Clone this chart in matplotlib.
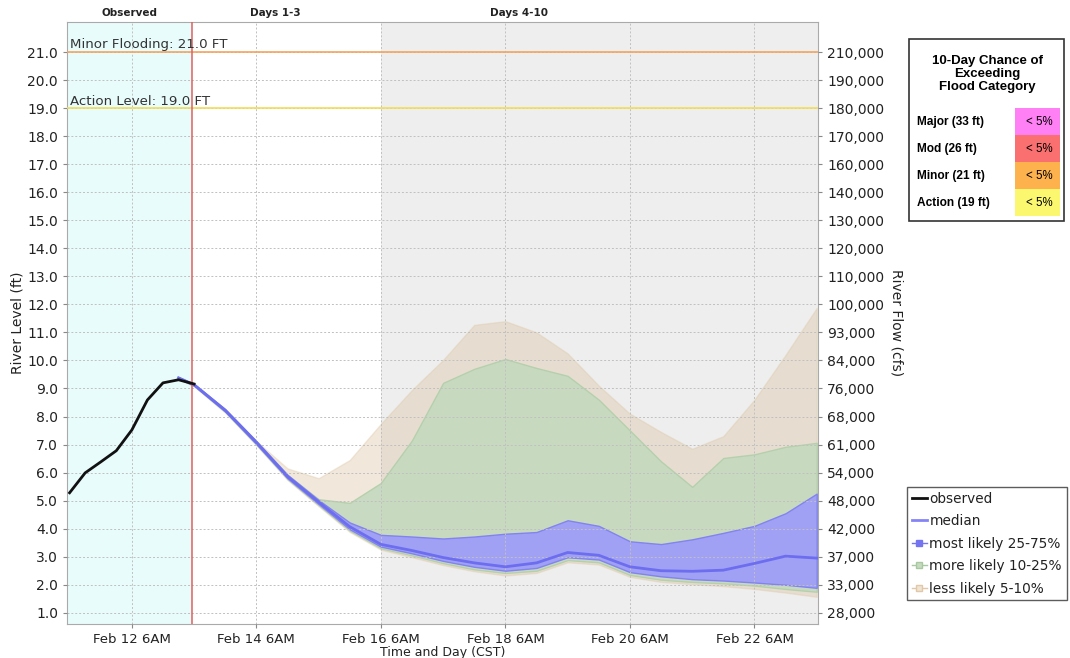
import numpy as np
import matplotlib.pyplot as plt
from matplotlib.lines import Line2D
from matplotlib.patches import Rectangle

# hours relative to Feb 12 6AM CST
obs_hours = [-24, -18, -12, -6, 0, 6, 12, 18, 24]
obs_stage = [5.28, 5.99, 6.38, 6.78, 7.52, 8.59, 9.20, 9.31, 9.16]

fc_hours = [18, 24, 36, 48, 60, 72, 84, 96, 108, 120, 132, 144, 156, 168,
            180, 192, 204, 216, 228, 240, 252, 264]
p50 = [9.38, 9.13, 8.22, 7.08, 5.86, 4.95, 4.07, 3.44, 3.22, 2.97, 2.78, 2.64,
       2.78, 3.15, 3.05, 2.64, 2.50, 2.48, 2.52, 2.76, 3.02, 2.95]
p75 = [9.40, 9.16, 8.26, 7.12, 5.92, 5.02, 4.22, 3.78, 3.72, 3.65, 3.72, 3.82,
       3.88, 4.30, 4.10, 3.55, 3.45, 3.62, 3.85, 4.10, 4.55, 5.25]
p25 = [9.36, 9.10, 8.18, 7.02, 5.80, 4.88, 3.98, 3.36, 3.12, 2.85, 2.64, 2.50,
       2.60, 2.98, 2.90, 2.45, 2.30, 2.20, 2.15, 2.08, 2.00, 1.89]
p90 = [9.40, 9.16, 8.26, 7.12, 5.92, 5.05, 4.92, 5.63, 7.15, 9.20, 9.70, 10.05,
       9.73, 9.45, 8.60, 7.50, 6.40, 5.49, 6.52, 6.65, 6.92, 7.06]
p10 = [9.35, 9.09, 8.16, 7.00, 5.77, 4.84, 3.93, 3.30, 3.05, 2.77, 2.55, 2.42,
       2.50, 2.88, 2.80, 2.35, 2.18, 2.10, 2.05, 1.97, 1.85, 1.75]
p95 = [9.40, 9.16, 8.26, 7.12, 6.15, 5.80, 6.45, 7.74, 8.95, 10.02, 11.27, 11.40,
       11.00, 10.25, 9.10, 8.10, 7.45, 6.85, 7.30, 8.60, 10.20, 11.87]
p05 = [9.34, 9.08, 8.14, 6.98, 5.74, 4.80, 3.88, 3.25, 2.98, 2.70, 2.48, 2.33,
       2.42, 2.80, 2.72, 2.28, 2.10, 2.02, 1.95, 1.85, 1.72, 1.57]

stage_ticks = np.arange(1, 22)
flow_labels = ['28,000', '33,000', '37,000', '42,000', '48,000', '54,000',
               '61,000', '68,000', '76,000', '84,000', '93,000', '100,000',
               '110,000', '120,000', '130,000', '140,000', '160,000', '170,000',
               '180,000', '190,000', '210,000']
day_ticks = [0, 48, 96, 144, 192, 240]
day_labels = ['Feb 12 6AM', 'Feb 14 6AM', 'Feb 16 6AM', 'Feb 18 6AM',
              'Feb 20 6AM', 'Feb 22 6AM']
issued = 23
days4_start = 96
minor_ft = 21.0
action_ft = 19.0

categories = ['Major (33 ft)', 'Mod (26 ft)', 'Minor (21 ft)', 'Action (19 ft)']
cat_chance = ['< 5%', '< 5%', '< 5%', '< 5%']
cat_colors = ['#ff80f4', '#fa7070', '#fdb24e', '#fbf870']

fig = plt.figure(figsize=(10.7, 6.58), dpi=100)
ax = fig.add_axes([67/1070, 1-624/658, 751/1070, 602/658])
xmin, xmax = -25, 264.5
ax.set_xlim(xmin, xmax)
ax.set_ylim(0.6, 22.07)

ax.axvspan(xmin, issued, color='#e9fcfc', zorder=0.2, lw=0)
ax.axvspan(days4_start, xmax, color='#eeeeee', zorder=0.2, lw=0)

ax.fill_between(fc_hours, p05, p95, facecolor='#d9bf9a', alpha=0.35,
                edgecolor='#dcc4a4', lw=1, zorder=1)
ax.fill_between(fc_hours, p10, p90, facecolor='#c6dac0', alpha=0.95,
                edgecolor='#b4cfab', lw=1, zorder=1.2)
ax.fill_between(fc_hours, p25, p75, facecolor='#9e9ef7', alpha=0.95,
                edgecolor='#8080f0', lw=1, zorder=1.4)
ax.plot(fc_hours, p50, color='#6d6df0', lw=2, zorder=3)
ax.plot(obs_hours, obs_stage, color='#111111', lw=2, zorder=3.2)

ax.axhline(minor_ft, color='#f4a462', lw=1.2, zorder=3)
ax.axhline(action_ft, color='#f2dc5a', lw=1.2, zorder=3)
ax.axvline(issued, color='#e06060', lw=1.1, zorder=3)
ax.text(-24.0, minor_ft + 0.02, 'Minor Flooding: 21.0 FT', fontsize=9.6,
        color='#333333', va='bottom', zorder=4)
ax.text(-24.0, action_ft + 0.02, 'Action Level: 19.0 FT', fontsize=9.6,
        color='#333333', va='bottom', zorder=4)

ax.grid(True, color='#c0c0c0', lw=0.7, ls=(0, (2, 2)))
ax.set_axisbelow(False)
ax.set_yticks(stage_ticks)
ax.set_yticklabels([f'{v:.1f}' for v in stage_ticks], fontsize=10, color='#222222')
ax.set_xticks(day_ticks)
ax.set_xticklabels(day_labels, fontsize=9.5, color='#222222')
ax.tick_params(length=3, color='#888888')
for s in ax.spines.values():
    s.set_color('#aaaaaa')
ax.set_ylabel('River Level (ft)', fontsize=10, color='#222222', labelpad=2)
ax.set_xlabel('Time and Day (CST)', fontsize=9, color='#222222', labelpad=0)

ax2 = ax.twinx()
ax2.set_ylim(ax.get_ylim())
ax2.set_yticks(stage_ticks)
ax2.set_yticklabels(flow_labels, fontsize=10, color='#222222')
ax2.tick_params(length=3, color='#888888')
for s in ax2.spines.values():
    s.set_visible(False)
ax2.set_ylabel('River Flow (cfs)', fontsize=10, color='#222222',
               rotation=-90, labelpad=14)

# period labels above the plot
top_y = 1 - 13/658
for xp, txt in [(129, 'Observed'), (275, 'Days 1-3'), (519, 'Days 4-10')]:
    fig.text(xp/1070, top_y, txt, fontsize=7.5, fontweight='bold',
             ha='center', va='center', color='#222222')

# flood category chance table
tb = fig.add_axes([908/1070, 1-222/658, 157/1070, 184/658])
tb.set_xlim(0, 157)
tb.set_ylim(184, 0)
tb.axis('off')
tb.add_patch(Rectangle((1, 1), 155, 182, fill=False, ec='#333333', lw=1.2,
                       clip_on=False))
tb.text(79, 36, '10-Day Chance of\nExceeding\nFlood Category', ha='center',
        va='center', fontsize=9.5, fontweight='bold', family='Liberation Sans',
        linespacing=1.15)
for i, (name, chance, col) in enumerate(zip(categories, cat_chance, cat_colors)):
    y0 = 70 + i * 27
    tb.add_patch(Rectangle((107, y0), 45, 27, color=col, lw=0))
    tb.text(9, y0 + 14, name, va='center', fontsize=8.6, fontweight='bold',
            family='Liberation Sans')
    tb.text(145, y0 + 14, chance, va='center', ha='right', fontsize=8.3,
            family='Liberation Sans')

handles = [
    Line2D([], [], color='#111111', lw=2),
    Line2D([], [], color='#8484f8', lw=2),
    Line2D([], [], color='#7474f0', lw=1, marker='s', ms=5),
    Line2D([], [], color='#a8c8a0', lw=1, marker='s', ms=5, mfc='#c6dac0'),
    Line2D([], [], color='#e0c8a8', lw=1, marker='s', ms=5, mfc='#f0e4d4'),
]
labels = ['observed', 'median', 'most likely 25-75%', 'more likely 10-25%',
          'less likely 5-10%']
leg = fig.legend(handles, labels, loc='upper left',
                 bbox_to_anchor=(907/1070, 1-487/658), fontsize=9.8,
                 handlelength=1.1, handletextpad=0.2, labelspacing=0.62,
                 borderpad=0.35, borderaxespad=0, fancybox=False,
                 edgecolor='#333333', labelcolor='#222222')
leg.get_frame().set_linewidth(1)

fig.savefig('out.png', dpi=100)
